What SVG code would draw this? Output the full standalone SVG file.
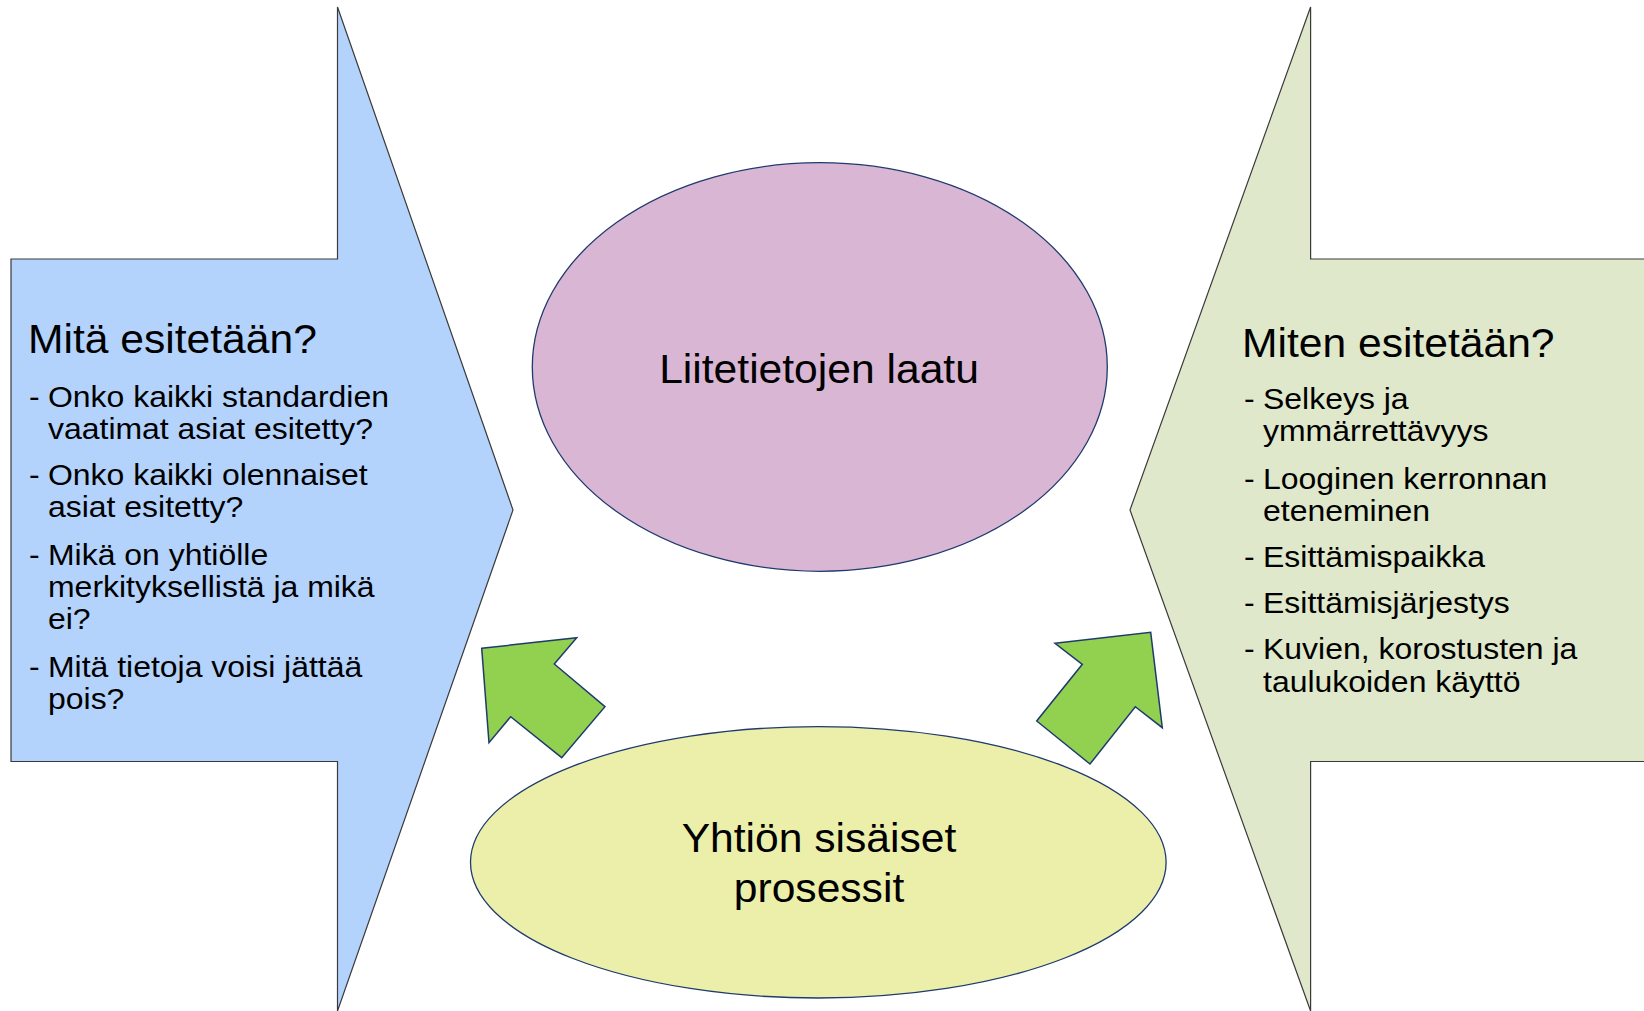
<svg xmlns="http://www.w3.org/2000/svg" width="1644" height="1011" viewBox="0 0 1644 1011">
  <style>
    .t { font-family: "Liberation Sans", Arial, sans-serif; fill: #000; }
    .h { font-size: 40px; }
    .b { font-size: 30px; }
    .c { text-anchor: middle; }
    .side { stroke: #3a3a3a; stroke-width: 1.2; stroke-linejoin: miter; }
    .ell { stroke: #1F3A6E; stroke-width: 1.3; }
    .arr { fill: #92D050; stroke: #1F3A6E; stroke-width: 1.5; stroke-linejoin: miter; }
  </style>
  <rect width="1644" height="1011" fill="#ffffff"/>

  <g id="node-what">
    <polygon class="side" fill="#B3D3FD" points="11,259 337.5,259 337.5,7 513,510 337.5,1011 337.5,761.5 11,761.5"/>
    <text class="t h" transform="translate(28,353) scale(1.065,1)">Mitä esitetään?</text>
    <g class="t b">
      <text transform="translate(29,406.5) scale(1.065,1)">-</text>
      <text transform="translate(48,406.5) scale(1.065,1)">Onko kaikki standardien</text>
      <text transform="translate(48,438.5) scale(1.065,1)">vaatimat asiat esitetty?</text>
      <text transform="translate(29,485) scale(1.065,1)">-</text>
      <text transform="translate(48,485) scale(1.065,1)">Onko kaikki olennaiset</text>
      <text transform="translate(48,517) scale(1.065,1)">asiat esitetty?</text>
      <text transform="translate(29,565) scale(1.065,1)">-</text>
      <text transform="translate(48,565) scale(1.065,1)">Mikä on yhtiölle</text>
      <text transform="translate(48,597) scale(1.065,1)">merkityksellistä ja mikä</text>
      <text transform="translate(48,629) scale(1.065,1)">ei?</text>
      <text transform="translate(29,676.5) scale(1.065,1)">-</text>
      <text transform="translate(48,676.5) scale(1.065,1)">Mitä tietoja voisi jättää</text>
      <text transform="translate(48,708.5) scale(1.065,1)">pois?</text>
    </g>
  </g>

  <g id="node-how">
    <polygon class="side" fill="#DFE8CA" points="1650,259 1310.6,259 1310.6,7 1130,510 1310.6,1011 1310.6,761.5 1650,761.5"/>
    <text class="t h" transform="translate(1242,356.5) scale(1.065,1)">Miten esitetään?</text>
    <g class="t b">
      <text transform="translate(1244,409) scale(1.065,1)">-</text>
      <text transform="translate(1263,409) scale(1.065,1)">Selkeys ja</text>
      <text transform="translate(1263,440.5) scale(1.065,1)">ymmärrettävyys</text>
      <text transform="translate(1244,488.5) scale(1.065,1)">-</text>
      <text transform="translate(1263,488.5) scale(1.065,1)">Looginen kerronnan</text>
      <text transform="translate(1263,520.5) scale(1.065,1)">eteneminen</text>
      <text transform="translate(1244,567) scale(1.065,1)">-</text>
      <text transform="translate(1263,567) scale(1.065,1)">Esittämispaikka</text>
      <text transform="translate(1244,613) scale(1.065,1)">-</text>
      <text transform="translate(1263,613) scale(1.065,1)">Esittämisjärjestys</text>
      <text transform="translate(1244,658.5) scale(1.065,1)">-</text>
      <text transform="translate(1263,658.5) scale(1.065,1)">Kuvien, korostusten ja</text>
      <text transform="translate(1263,691.5) scale(1.065,1)">taulukoiden käyttö</text>
    </g>
  </g>

  <g id="node-quality">
    <ellipse class="ell" fill="#D8B6D4" cx="819.8" cy="367" rx="287.5" ry="204.3"/>
    <text class="t h c" transform="translate(819,383.3) scale(1.065,1)">Liitetietojen laatu</text>
  </g>

  <g id="node-processes">
    <ellipse class="ell" fill="#ECEFAA" cx="818.3" cy="862.3" rx="347.8" ry="135.7"/>
    <text class="t h c" transform="translate(819,851.7) scale(1.065,1)">Yhtiön sisäiset</text>
    <text class="t h c" transform="translate(819,901.7) scale(1.065,1)">prosessit</text>
  </g>

  <g id="connectors">
    <polygon class="arr" points="481.7,648.3 576.7,637.7 554.3,664 605,706.7 561.7,757.7 510.7,716.7 489,742.7"/>
    <polygon class="arr" points="1055,643.3 1150.7,632.3 1162.3,727.7 1135.3,706.7 1090,764 1036.7,721 1082.3,664.3"/>
  </g>
</svg>
